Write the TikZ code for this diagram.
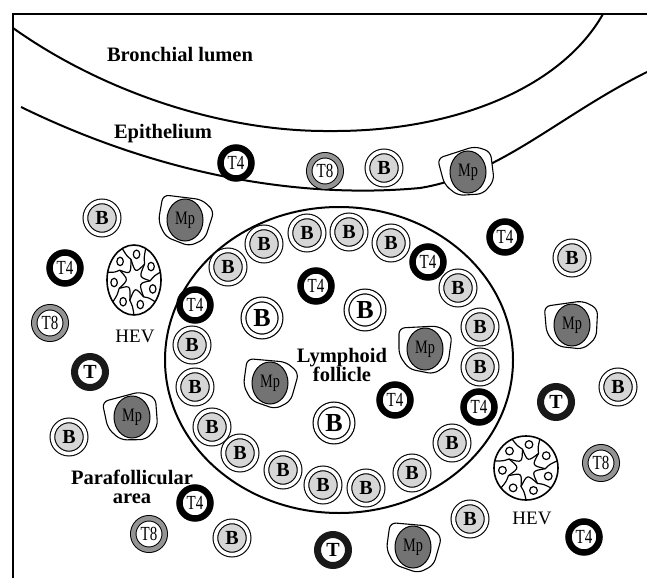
\documentclass[tikz,border=0pt]{standalone}
\usepackage{fontspec}
\usepackage{graphicx}
\setmainfont{Liberation Serif}
\usetikzlibrary{shapes.geometric}

\definecolor{bfill}{gray}{0.84}
\definecolor{tgrey}{gray}{0.58}
\definecolor{mpgrey}{gray}{0.45}

\tikzset{
  every node/.style={inner sep=0pt, outer sep=0pt},
  border/.style={line width=2.2pt},
  tissue/.style={line width=2pt},
  label/.style={font=\fontsize{20.5}{22}\selectfont\bfseries, align=center},
  hevlabel/.style={font=\fontsize{19}{19}\selectfont},
  bcell/.style={circle, minimum size=33.2pt, fill=bfill, draw, line width=1.1pt,
    double=white, double distance=3.6pt, font=\fontsize{20}{20}\selectfont\bfseries},
  bigb/.style={circle, minimum size=37pt, fill=white, draw, line width=1.2pt,
    double=white, double distance=3.6pt, font=\fontsize{26}{26}\selectfont\bfseries},
  tfour/.style={circle, minimum size=31pt, fill=white, draw, line width=6.5pt,
    font=\fontsize{20}{20}\selectfont},
  teight/.style={circle, minimum size=31.5pt, fill=white, draw, line width=1pt,
    double=tgrey, double distance=4.5pt, font=\fontsize{20}{20}\selectfont},
  tcell/.style={circle, minimum size=31pt, fill=white, draw=black!90, line width=7pt,
    font=\fontsize{20}{20}\selectfont\bfseries},
  mpcore/.style={ellipse, minimum width=36pt, minimum height=42pt, fill=mpgrey,
    draw, line width=1pt, font=\fontsize{19}{19}\selectfont},
  mpshell/.style={draw, fill=white, line width=1.1pt, rounded corners=6pt},
  hevouter/.style={line width=1.6pt},
  hevinner/.style={line width=1.2pt},
}

% narrow lettering used inside the T cells and macrophages
\newcommand\narrow[1]{\scalebox{0.75}[1]{#1}}

% macrophage: irregular cell body with a dark nucleus
\newcommand\macro[3]{%
  \begin{scope}[shift={#2}, rotate=#3]
    \path[mpshell] (-26,-21) -- (13,-23) -- (27,-14) -- (23,15) -- (9,25)
      -- (-16,20) -- (-26,6) -- cycle;
  \end{scope}
  \node[mpcore] (#1) at #2 {\narrow{Mp}};
}

% high endothelial venule: ring of seven plump endothelial cells
% around a star-shaped lumen
\newcommand\venule[3]{%
  \begin{scope}[shift={#1}, xscale=#2, yscale=#3]
    \draw[hevouter, fill=white] (0,0) circle (1);
    \foreach \k in {0,...,6}{
      \pgfmathsetmacro\a{90+\k*360/7}
      \pgfmathsetmacro\b{\a+360/7}
      \pgfmathsetmacro\m{\a+15+360/14}
      % junction between neighbouring cells, then the cell's luminal face
      \draw[hevinner] (\a:1) .. controls (\a+4:0.75) .. (\a+15:0.6)
        .. controls (\m:0.2) .. (\b+15:0.6);
      % nucleus
      \draw[hevinner] (\a+33:0.74) circle (0.12);
    }
  \end{scope}
}

\begin{document}
\begin{tikzpicture}[x=1pt, y=-1pt]
\useasboundingbox (0,0) rectangle (647,580);
\fill[white] (0,0) rectangle (647,580);

% frame
\draw[border] (13,578) -- (13,14) -- (647,14);

% bronchial wall
\draw[tissue] (13,28) .. controls (100,90) and (220,132) .. (330,131)
  .. controls (450,132) and (560,90) .. (603,14);
\draw[tissue] (21,107) .. controls (150,170) and (290,200) .. (420,188)
  .. controls (500,175) and (560,115) .. (647,72);

\node[label] (lumen) at (180,55) {Bronchial lumen};
\node[label] (epi) at (163,134) {Epithelium};

% cells in the epithelium
\node[tfour] (e1) at (236,163) {\narrow{T4}};
\node[teight] (e2) at (325,171) {\narrow{T8}};
\node[bcell] (e3) at (384,168) {B};
\macro{e4}{(468,172)}{15}

% lymphoid follicle
\draw[tissue] (339,360) ellipse [x radius=174, y radius=153];
\node[label] (foll) at (342,365) {Lymphoid\\[-3pt]follicle};

% follicle mantle
\node[bcell] (f1) at (228,267) {B};
\node[bcell] (f2) at (264,244) {B};
\node[bcell] (f3) at (307,233) {B};
\node[bcell] (f4) at (349,232) {B};
\node[bcell] (f5) at (391,243) {B};
\node[tfour] (f6) at (428,262) {\narrow{T4}};
\node[bcell] (f7) at (458,288) {B};
\node[bcell] (f8) at (480,327) {B};
\node[bcell] (f9) at (480,367) {B};
\node[tfour] (f10) at (479,407) {\narrow{T4}};
\node[bcell] (f11) at (452,443) {B};
\node[bcell] (f12) at (412,473) {B};
\node[bcell] (f13) at (366,488) {B};
\node[bcell] (f14) at (323,485) {B};
\node[bcell] (f15) at (283,470) {B};
\node[bcell] (f16) at (240,453) {B};
\node[bcell] (f17) at (212,427) {B};
\node[bcell] (f18) at (195,387) {B};
\node[bcell] (f19) at (192,345) {B};
\node[tfour] (f20) at (195,305) {\narrow{T4}};

% follicle centre
\node[tfour] (c1) at (316,286) {\narrow{T4}};
\node[bigb] (c2) at (365,310) {B};
\node[bigb] (c3) at (262,318) {B};
\macro{c4}{(270,383)}{-8}
\macro{c5}{(425,349)}{0}
\node[bigb] (c6) at (334,423) {B};
\node[tfour] (c7) at (395,400) {\narrow{T4}};

% parafollicular area, left
\node[bcell] (p1) at (102,218) {B};
\macro{p2}{(185,220)}{-10}
\node[tfour] (p3) at (65,268) {\narrow{T4}};
\venule{(134,280)}{27}{35}
\node[hevlabel] (hev1) at (135,336) {HEV};
\node[teight] (p4) at (50,323) {\narrow{T8}};
\node[tcell] (p5) at (90,372) {T};
\macro{p6}{(132,417)}{12}
\node[bcell] (p7) at (69,437) {B};
\node[label] (para) at (132,487) {Parafollicular\\[-3pt]area};
\node[tfour] (p8) at (195,503) {\narrow{T4}};
\node[teight] (p9) at (149,534) {\narrow{T8}};
\node[bcell] (p10) at (232,538) {B};

% parafollicular area, bottom and right
\node[tcell] (q1) at (333,550) {T};
\macro{q2}{(413,547)}{-8}
\node[bcell] (q3) at (470,519) {B};
\node[tfour] (q4) at (505,237) {\narrow{T4}};
\node[bcell] (q5) at (572,258) {B};
\macro{q6}{(572,325)}{5}
\node[tcell] (q7) at (556,402) {T};
\node[bcell] (q8) at (618,387) {B};
\venule{(526,468)}{32}{32}
\node[hevlabel] (hev2) at (532,518) {HEV};
\node[teight] (q9) at (601,463) {\narrow{T8}};
\node[tfour] (q10) at (584,537) {\narrow{T4}};
\end{tikzpicture}
\end{document}
